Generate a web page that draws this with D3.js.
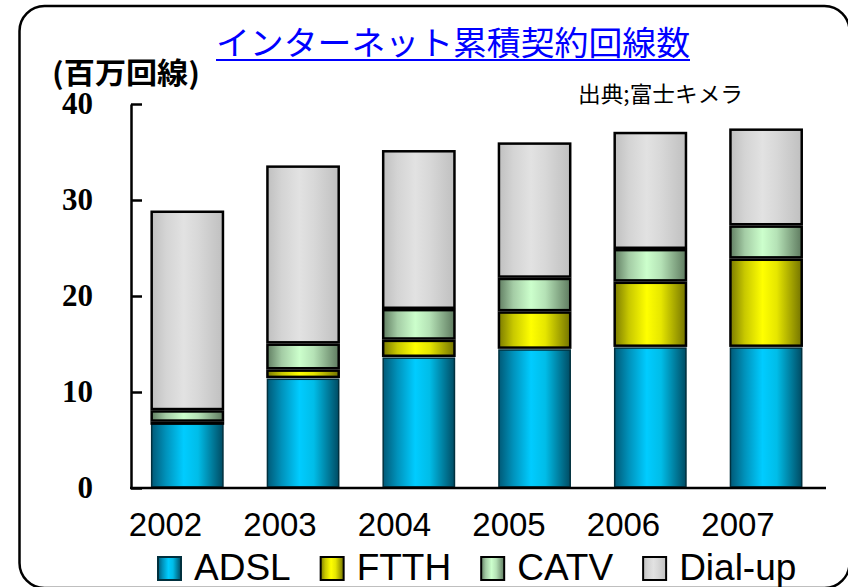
<!DOCTYPE html>
<html>
<head>
<meta charset="utf-8">
<script src="https://cdn.jsdelivr.net/npm/d3@7"></script>
<style>
  body { margin: 0; background: #fff; }
  svg { display: block; }
</style>
</head>
<body>
<script>
// chart data (millions of lines)
var years = ["2002", "2003", "2004", "2005", "2006", "2007"];
var adsl = [6.8, 11.45, 13.65, 14.5, 14.7, 14.7];
var ftth = [0.1, 0.9, 1.8, 3.9, 6.8, 9.2];
var catv = [1.2, 2.7, 3.2, 3.5, 3.4, 3.45];
var dialup = [20.8, 18.55, 16.55, 14.1, 12.2, 10.1];
var seriesNames = ["ADSL", "FTTH", "CATV", "Dial-up"];
var yTicks = [0, 10, 20, 30, 40];

var titleText = "インターネット累積契約回線数";
var unitText = "(百万回線)";
var sourceText = "出典;富士キメラ";

// gradient stops for each series (dark edge -> light middle -> dark edge)
var gradStops = {
  "ADSL":    ["#005a78", "#0092bb", "#00ccff", "#00bde8", "#004c64"],
  "FTTH":    ["#7c7c00", "#c8c800", "#ffff00", "#e6e600", "#747400"],
  "CATV":    ["#627f63", "#a4cca5", "#ccffcc", "#b5e2b6", "#5f7b60"],
  "Dial-up": ["#c0c0c0", "#d4d4d4", "#e2e2e2", "#d8d8d8", "#c0c0c0"]
};

var width = 848, height = 587;

var svg = d3.select("body").append("svg")
    .attr("width", width)
    .attr("height", height);

var defs = svg.append("defs");
seriesNames.forEach(function(name, i) {
  var g = defs.append("linearGradient")
      .attr("id", "grad" + i)
      .attr("x1", 0).attr("x2", 1).attr("y1", 0).attr("y2", 0);
  [0, 0.2, 0.45, 0.65, 1].forEach(function(off, k) {
    g.append("stop").attr("offset", off).attr("stop-color", gradStops[name][k]);
  });
});

// rounded frame
svg.append("rect")
    .attr("x", 19.5).attr("y", 6)
    .attr("width", 830).attr("height", 582)
    .attr("rx", 25).attr("ry", 25)
    .attr("fill", "#fff")
    .attr("stroke", "#000")
    .attr("stroke-width", 2.5);

// set the ranges
var x = d3.scaleBand()
    .domain(years)
    .range([131, 822.4])
    .paddingInner(0.367)
    .paddingOuter(0.17);

var y = d3.scaleLinear()
    .domain([0, 40])
    .range([488, 104]);

// stack the series
var rows = years.map(function(yr, i) {
  return { year: yr, "ADSL": adsl[i], "FTTH": ftth[i], "CATV": catv[i], "Dial-up": dialup[i] };
});
var stacked = d3.stack().keys(seriesNames)(rows);

var layers = svg.append("g").selectAll("g")
    .data(stacked)
  .enter().append("g")
    .attr("fill", function(d, i) { return "url(#grad" + i + ")"; });

layers.selectAll("rect")
    .data(function(d) { return d.map(function(p) { p.key = d.key; return p; }); })
  .enter().append("rect")
    .attr("x", function(d) { return x(d.data.year) + 1; })
    .attr("width", x.bandwidth() - 2)
    .attr("y", function(d) { return y(d[1]) + 1.2; })
    .attr("height", function(d) { return Math.max(y(d[0]) - y(d[1]) - 2.4, 0.6); })
    .attr("stroke", function(d) { return d.key == "ADSL" ? "#00303e" : "#000"; })
    .attr("stroke-width", function(d) { return d.key == "ADSL" ? 1.5 : 2.5; });

// add the y axis (ticks point inwards)
var yAxis = svg.append("g")
    .attr("transform", "translate(131,0)")
    .call(d3.axisLeft(y)
        .tickValues(yTicks)
        .tickSizeInner(-11)
        .tickSizeOuter(0)
        .tickPadding(38));
yAxis.select(".domain").attr("stroke-width", 2.5);
yAxis.selectAll(".tick line").attr("stroke-width", 2.5);
yAxis.selectAll(".tick text")
    .attr("font-family", "'Liberation Serif', 'Times New Roman', serif")
    .attr("font-weight", "bold")
    .attr("font-size", 31)
    .attr("fill", "#000");

// x axis line
svg.append("line")
    .attr("x1", 130).attr("x2", 826)
    .attr("y1", y(0)).attr("y2", y(0))
    .attr("stroke", "#000")
    .attr("stroke-width", 2.5);

// year labels sit a bit left of the bars
var xLabel = d3.scalePoint().domain(years).range([165.5, 738]);
svg.append("g").selectAll("text")
    .data(years)
  .enter().append("text")
    .attr("x", function(d) { return xLabel(d); })
    .attr("y", 536)
    .attr("text-anchor", "middle")
    .attr("font-family", "'Liberation Sans', Arial, sans-serif")
    .attr("font-size", 33)
    .text(function(d) { return d; });

// title
var titleW = 474, titleX = 453;
svg.append("text")
    .attr("x", titleX)
    .attr("y", 55)
    .attr("text-anchor", "middle")
    .attr("font-family", "'Noto Sans CJK JP', sans-serif")
    .attr("font-size", 33)
    .attr("fill", "#0000ff")
    .attr("textLength", titleW)
    .attr("lengthAdjust", "spacingAndGlyphs")
    .text(titleText);
svg.append("line")
    .attr("x1", titleX - titleW / 2).attr("x2", titleX + titleW / 2)
    .attr("y1", 60).attr("y2", 60)
    .attr("stroke", "#0000ff")
    .attr("stroke-width", 2);

// unit label
svg.append("text")
    .attr("x", 52)
    .attr("y", 84)
    .attr("font-family", "'Noto Sans CJK JP', sans-serif")
    .attr("font-weight", "bold")
    .attr("font-size", 29)
    .attr("textLength", 148)
    .attr("lengthAdjust", "spacingAndGlyphs")
    .text(unitText);

// source note
svg.append("text")
    .attr("x", 578)
    .attr("y", 102)
    .attr("font-family", "'Noto Sans CJK JP', sans-serif")
    .attr("font-size", 22)
    .attr("textLength", 165)
    .attr("lengthAdjust", "spacingAndGlyphs")
    .text(sourceText);

// legend
var legend = svg.append("g");
var lx = 158;
seriesNames.forEach(function(name, i) {
  legend.append("rect")
      .attr("x", lx).attr("y", 557)
      .attr("width", 23).attr("height", 23)
      .attr("fill", "url(#grad" + i + ")")
      .attr("stroke", name == "ADSL" ? "#00303e" : "#000")
      .attr("stroke-width", 2);
  var t = legend.append("text")
      .attr("x", lx + 36)
      .attr("y", 580)
      .attr("font-family", "'Liberation Sans', Arial, sans-serif")
      .attr("font-size", 37)
      .text(name);
  var w = t.node().getComputedTextLength();
  lx = lx + 36 + w + 30;
});
</script>
</body>
</html>
